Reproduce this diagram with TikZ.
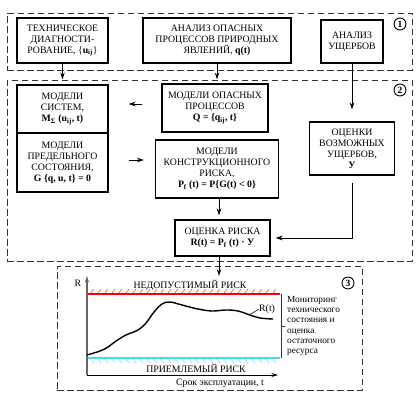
\documentclass[tikz,border=0pt]{standalone}
\usepackage{fontspec}
\setmainfont{Liberation Serif}
\usetikzlibrary{arrows.meta,calc}
\definecolor{cy}{RGB}{64,224,240}
\begin{document}
\begin{tikzpicture}[x=1pt,y=-1pt,
  box/.style={draw, line width=1.3pt, inner sep=0pt, align=center, font=\fontsize{9.8}{11}\selectfont},
  dbox/.style={draw=black!80, line width=1pt, dash pattern=on 6.5pt off 3.5pt, inner sep=0pt},
  arr/.style={line width=1pt, -{Stealth[length=7pt,width=4.6pt]}},
  num/.style={circle, draw, line width=0.9pt, inner sep=0pt, minimum size=12pt, font=\fontsize{9.5}{9.5}\selectfont\bfseries},
  lbl/.style={inner sep=0pt, font=\fontsize{9.8}{11}\selectfont},
]
\useasboundingbox (0,0) rectangle (420,400);
\fill[white] (0,0) rectangle (420,400);

% dashed group boxes
\node[dbox, minimum width=405pt, minimum height=57pt] (b1) at (209.5,41.5) {};
\node[dbox, minimum width=405pt, minimum height=181pt] (b2) at (209.5,170.5) {};
\node[dbox, minimum width=305pt, minimum height=124pt] (b3) at (209.5,328) {};
\node[num] (n1) at (400,24) {1};
\node[num] (n2) at (400,90) {2};
\node[num] (n3) at (348,283) {3};

% boxes
\node[box, minimum width=91pt, minimum height=45pt] (td) at (62.5,40.5)
  {ТЕХНИЧЕСКОЕ\\ДИАГНОСТИ-\\РОВАНИЕ, \{\textbf{u}\textsubscript{\textbf{ij}}\}};
\node[box, minimum width=148pt, minimum height=45pt] (aop) at (217,40.5)
  {АНАЛИЗ ОПАСНЫХ\\ПРОЦЕССОВ ПРИРОДНЫХ\\ЯВЛЕНИЙ, \textbf{q(t)}};
\node[box, minimum width=62pt, minimum height=43pt] (au) at (352,41.5)
  {АНАЛИЗ\\УЩЕРБОВ};
\node[box, minimum width=91pt, minimum height=48pt] (ms) at (62.5,109)
  {МОДЕЛИ\\СИСТЕМ,\\\textbf{M\textsubscript{Σ} (u\textsubscript{ij}, t)}};
\node[box, minimum width=91pt, minimum height=59pt] (mps) at (62.5,162.5)
  {МОДЕЛИ\\ПРЕДЕЛЬНОГО\\СОСТОЯНИЯ,\\\textbf{G \{q, u, t\} = 0}};
\node[box, minimum width=106pt, minimum height=48pt] (mop) at (215,108)
  {МОДЕЛИ ОПАСНЫХ\\ПРОЦЕССОВ\\\textbf{Q = \{q\textsubscript{ij}, t\}}};
\node[box, minimum width=123pt, minimum height=58pt] (mkr) at (217,169)
  {МОДЕЛИ\\КОНСТРУКЦИОННОГО\\РИСКА,\\\textbf{P\textsubscript{f} (t) = P\{G(t) < 0\}}};
\node[box, minimum width=85pt, minimum height=53pt] (ovu) at (352,148.5)
  {ОЦЕНКИ\\ВОЗМОЖНЫХ\\УЩЕРБОВ,\\\textbf{У}};
\node[box, minimum width=95pt, minimum height=36pt] (or) at (222.5,238)
  {ОЦЕНКА РИСКА\\\textbf{R(t) = P\textsubscript{f} (t) · У}};

% connectors
\coordinate (ax) at (219,0);
\coordinate (chtop) at (219,276);
\draw[arr] (td.south) -- (td.south |- b2.north);
\draw[arr] (aop.south) -- (aop.south |- b2.north);
\draw[arr, shorten >=12pt] (au.south) -- (au.south |- ovu.north);
\draw[arr, shorten <=19pt, shorten >=20pt] (mop.west |- 0,104) -- (ms.east |- 0,104);
\draw[arr, shorten <=20pt, shorten >=11pt] (mps.east |- 0,160) -- (mkr.west |- 0,160);
\draw[arr, shorten >=4pt] (mkr.south -| ax) -- (or.north -| ax);
\draw[arr, shorten <=7pt, shorten >=5pt] (ovu.south) -- (ovu.south |- or.east) -- (or.east);
\draw[arr] (or.south -| ax) -- (chtop);

% chart
\foreach \x in {90,97,...,276} \draw[red, line width=0.4pt] (\x,294) -- ++(4,-5);
\foreach \x in {90,97,...,276} \draw[cy, line width=0.4pt] (\x,358) -- ++(4,5);
\draw[red, line width=1.8pt] (87,294) -- (280,294);
\draw[cy, line width=1.8pt] (87,358) -- (280,358);
\coordinate (org) at (87,375);
\coordinate (ytop) at (87,276);
\coordinate (xend) at (278,375);
\draw[black!60, line width=1.2pt, -{Stealth[length=6.5pt,width=4pt]}] (org) -- (ytop);
\draw[black, line width=1pt, -{Stealth[length=6.5pt,width=4pt]}] (org) -- (xend);
\node[lbl] (rl) at (78,283) {R};
\node[lbl] (nr) at (190,285) {НЕДОПУСТИМЫЙ РИСК};
\node[lbl] (pr) at (196,368) {ПРИЕМЛЕМЫЙ РИСК};
\node[lbl] (sr) at (220,383) {Срок эксплуатации, t};
\draw[line width=1.4pt] plot[smooth, tension=0.6] coordinates
  {(87,355) (100,351) (108,347) (116,341) (126,335) (138,330) (146,323) (154,312) (162,304) (170,302) (182,305) (198,309) (212,311) (226,310) (238,311) (250,315) (260,318) (273,319)};
\node[lbl, anchor=west] (rt) at (259,309) {R(t)};
\draw[line width=0.5pt] (249,315) -- (rt.west);
\draw[black!80, line width=0.8pt] (281,294) -- (281,358);
\draw[black!80, line width=0.8pt] (281,326) -- (285,326);
\node[anchor=west, align=left, inner sep=0pt, font=\fontsize{9.3}{10.3}\selectfont] (mon) at (287,326)
  {Мониторинг\\технического\\состояния и\\оценка\\остаточного\\ресурса};
\end{tikzpicture}
\end{document}
